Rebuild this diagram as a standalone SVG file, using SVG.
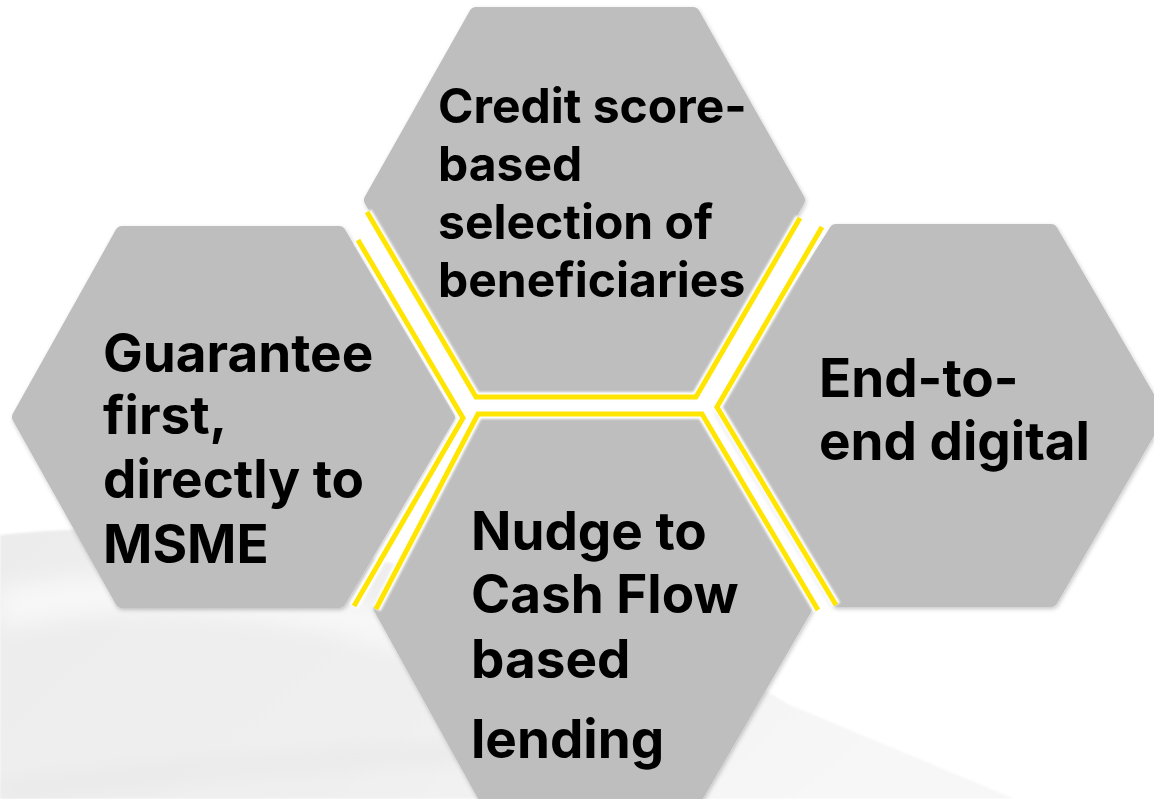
<svg xmlns="http://www.w3.org/2000/svg" width="1154" height="799" viewBox="0 0 1154 799">
  <style>
    .hex { fill: #BEBEBE; stroke: #BEBEBE; stroke-width: 14; stroke-linejoin: round; }
    .label { font-family: Inter, "Liberation Sans", Arial, sans-serif; font-weight: 700; fill: #000; }
    .halo { fill: none; stroke: #FFFFFF; stroke-width: 10; stroke-linejoin: miter; }
    .rail { fill: none; stroke: #FFE500; stroke-width: 5; stroke-linejoin: miter; }
  </style>
  <defs>
    <filter id="shadow" x="-10%" y="-10%" width="120%" height="120%">
      <feDropShadow dx="1" dy="2" stdDeviation="2" flood-color="#000" flood-opacity="0.22"/>
    </filter>
    <filter id="soft" x="-10%" y="-10%" width="120%" height="120%">
      <feGaussianBlur stdDeviation="1.2"/>
    </filter>
    <filter id="haze" x="-20%" y="-20%" width="140%" height="140%">
      <feGaussianBlur stdDeviation="10"/>
    </filter>
    <linearGradient id="floor" x1="0" y1="0" x2="1" y2="0.3">
      <stop offset="0" stop-color="#ECECEC"/>
      <stop offset="0.6" stop-color="#F0F0F0"/>
      <stop offset="1" stop-color="#F7F7F7"/>
    </linearGradient>
  </defs>

  <!-- backdrop -->
  <rect width="1154" height="799" fill="#FFFFFF"/>
  <g id="backdrop">
    <path d="M0,535 C120,522 260,530 380,560 C560,605 700,650 790,705 L1015,799 L0,799 Z" fill="url(#floor)" filter="url(#soft)"/>
    <path d="M0,610 C150,575 330,600 450,650 C560,695 620,722 700,765" fill="none" stroke="#F7F7F7" stroke-width="40" filter="url(#haze)"/>
    <path d="M0,792 C200,765 450,748 700,745" fill="none" stroke="#E6E6E6" stroke-width="10" filter="url(#haze)"/>
  </g>

  <!-- hexagon tiles -->
  <g id="hex-credit" filter="url(#shadow)">
    <polygon class="hex" points="476,14 693,14 798,200 692,389 480,389 371,200"/>
    <text class="label" font-size="48">
      <tspan x="438" y="123">Credit score-</tspan>
      <tspan x="438" y="181">based</tspan>
      <tspan x="438" y="239">selection of</tspan>
      <tspan x="438" y="297">beneficiaries</tspan>
    </text>
  </g>

  <g id="hex-guarantee" filter="url(#shadow)">
    <polygon class="hex" points="122,233 339,233 448,417 339,601 122,601 19,417"/>
    <text class="label" font-size="53">
      <tspan x="103" y="372">Guarantee</tspan>
      <tspan x="103" y="434">first,</tspan>
      <tspan x="103" y="498">directly to</tspan>
      <tspan x="103" y="563">MSME</tspan>
    </text>
  </g>

  <g id="hex-digital" filter="url(#shadow)">
    <polygon class="hex" points="836,231 1051,231 1158,415 1051,600 837,600 722,410"/>
    <text class="label" font-size="53">
      <tspan x="819" y="397">End-to-</tspan>
      <tspan x="819" y="460">end digital</tspan>
    </text>
  </g>

  <g id="hex-cashflow" filter="url(#shadow)">
    <polygon class="hex" points="484,423 697,423 806,607 697,795 484,795 380,607"/>
    <text class="label" font-size="53">
      <tspan x="471" y="550">Nudge to</tspan>
      <tspan x="471" y="613">Cash Flow</tspan>
      <tspan x="471" y="678">based</tspan>
      <tspan x="471" y="758">lending</tspan>
    </text>
  </g>

  <!-- yellow rails between the tiles -->
  <g id="connectors">
    <g filter="url(#soft)">
      <polyline class="halo" points="367,212 476,397 696,397 800,218"/>
      <polyline class="halo" points="376,609 478,414 702,414 818,610"/>
      <polyline class="halo" points="358,240 463,418 354,606"/>
      <polyline class="halo" points="822,227 717,407 836,605"/>
    </g>
    <polyline class="rail" points="367,212 476,397 696,397 800,218"/>
    <polyline class="rail" points="376,609 478,414 702,414 818,610"/>
    <polyline class="rail" points="358,240 463,418 354,606"/>
    <polyline class="rail" points="822,227 717,407 836,605"/>
  </g>
</svg>
